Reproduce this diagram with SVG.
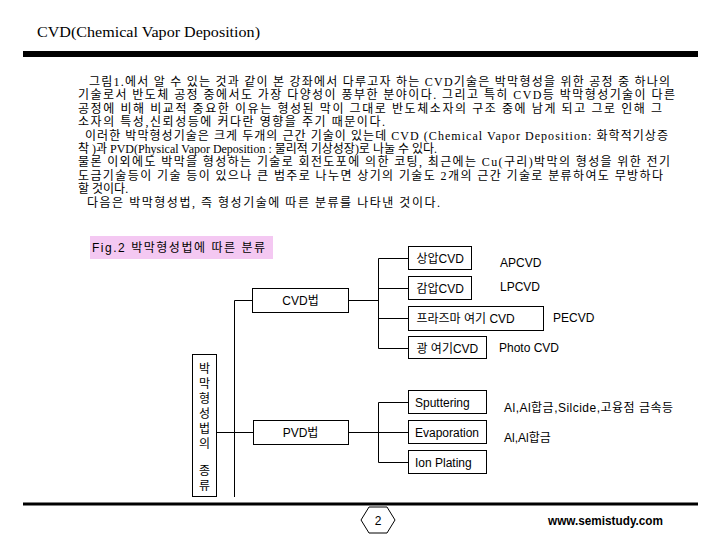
<svg xmlns="http://www.w3.org/2000/svg" width="720" height="540" viewBox="0 0 720 540">
<style>
.para{font-family:"Liberation Serif","Noto Sans CJK KR",serif;font-size:12px;fill:#000}
.lbl{font-family:"Liberation Sans","Noto Sans CJK KR",sans-serif;font-size:12px;fill:#000}
.box{fill:#fff;stroke:#000;stroke-width:1}
.ln{stroke:#000;stroke-width:1;fill:none}
</style>
<rect width="720" height="540" fill="#fff"/>
<text x="37" y="37" font-family="Liberation Serif, serif" font-size="15" textLength="223" lengthAdjust="spacingAndGlyphs">CVD(Chemical Vapor Deposition)</text>
<rect x="23" y="51" width="675" height="6" fill="#000"/>
<g id="paragraph">
<text class="para" x="89" y="86" textLength="581" lengthAdjust="spacing">그림1.에서 알 수 있는 것과 같이 본 강좌에서 다루고자 하는 CVD기술은 박막형성을 위한 공정 중 하나의</text>
<text class="para" x="78" y="99.4" textLength="597" lengthAdjust="spacing">기술로서 반도체 공정 중에서도 가장  다양성이 풍부한 분야이다. 그리고 특히 CVD등 박막형성기술이 다른</text>
<text class="para" x="78" y="112.8" textLength="584" lengthAdjust="spacing">공정에 비해 비교적 중요한 이유는 형성된 막이 그대로 반도체소자의 구조 중에 남게 되고 그로 인해 그</text>
<text class="para" x="78" y="126.2" textLength="307" lengthAdjust="spacing">소자의 특성,신뢰성등에 커다란 영향을 주기 때문이다.</text>
<text class="para" x="85" y="139.6" textLength="583" lengthAdjust="spacing">이러한 박막형성기술은 크게 두개의 근간 기술이 있는데 CVD (Chemical Vapor Deposition: 화학적기상증</text>
<text class="para" x="78" y="153" textLength="359" lengthAdjust="spacing">착 )과 PVD(Physical Vapor Deposition : 물리적 기상성장)로 나눌 수 있다.</text>
<text class="para" x="78" y="166.4" textLength="592" lengthAdjust="spacing">물론 이외에도 박막을 형성하는 기술로 회전도포에 의한 코팅, 최근에는 Cu(구리)박막의 형성을 위한 전기</text>
<text class="para" x="78" y="179.8" textLength="585" lengthAdjust="spacing">도금기술등이 기술 등이 있으나 큰 범주로 나누면 상기의 기술도 2개의 근간 기술로 분류하여도 무방하다</text>
<text class="para" x="78" y="193.2">할 것이다.</text>
<text class="para" x="87" y="206.6" textLength="353" lengthAdjust="spacing">다음은 박막형성법, 즉 형성기술에 따른 분류를 나타낸 것이다.</text>
</g>
<g id="fig-label">
<rect x="90" y="236" width="183" height="23" fill="#f4c8f2"/>
<text class="lbl" x="92" y="252" textLength="173" lengthAdjust="spacing">Fig.2   박막형성법에 따른 분류</text>
</g>
<g id="connectors">
<line class="ln" x1="217" y1="432.5" x2="253" y2="432.5"/>
<line class="ln" x1="234.5" y1="300.5" x2="234.5" y2="497"/>
<line class="ln" x1="234.5" y1="300.5" x2="252" y2="300.5"/>
<line class="ln" x1="348" y1="300.5" x2="378.5" y2="300.5"/>
<line class="ln" x1="378.5" y1="258.5" x2="378.5" y2="348.5"/>
<line class="ln" x1="378.5" y1="258.5" x2="408" y2="258.5"/>
<line class="ln" x1="378.5" y1="288.5" x2="408" y2="288.5"/>
<line class="ln" x1="378.5" y1="318.5" x2="408" y2="318.5"/>
<line class="ln" x1="378.5" y1="348.5" x2="408" y2="348.5"/>
<line class="ln" x1="348" y1="432.5" x2="408" y2="432.5"/>
<line class="ln" x1="378.5" y1="402.5" x2="378.5" y2="462.5"/>
<line class="ln" x1="378.5" y1="402.5" x2="408" y2="402.5"/>
<line class="ln" x1="378.5" y1="462.5" x2="408" y2="462.5"/>
</g>
<g id="root">
<rect class="box" x="192.5" y="354.5" width="24" height="142"/>
<g class="lbl" font-size="11" text-anchor="middle">
<text x="204.5" y="372.5">박</text>
<text x="204.5" y="388">막</text>
<text x="204.5" y="403">형</text>
<text x="204.5" y="418">성</text>
<text x="204.5" y="433">법</text>
<text x="204.5" y="448">의</text>
<text x="204.5" y="474.7">종</text>
<text x="204.5" y="489.7">류</text>
</g>
</g>
<g id="cvd">
<rect class="box" x="252.5" y="288.5" width="96" height="24"/>
<text class="lbl" x="300.5" y="304.5" text-anchor="middle">CVD법</text>
</g>
<g id="pvd">
<rect class="box" x="253.5" y="420.5" width="95" height="24"/>
<text class="lbl" x="300.5" y="436.5" text-anchor="middle">PVD법</text>
</g>
<g id="apcvd">
<rect class="box" x="408.5" y="246.5" width="63" height="23"/>
<text class="lbl" x="416.5" y="263">상압CVD</text>
<text class="lbl" x="500" y="267">APCVD</text>
</g>
<g id="lpcvd">
<rect class="box" x="408.5" y="276.5" width="63" height="23"/>
<text class="lbl" x="416.5" y="293">감압CVD</text>
<text class="lbl" x="500" y="291">LPCVD</text>
</g>
<g id="pecvd">
<rect class="box" x="408.5" y="306.5" width="135" height="24"/>
<text class="lbl" x="416.5" y="323">프라즈마 여기 CVD</text>
<text class="lbl" x="553" y="322">PECVD</text>
</g>
<g id="photocvd">
<rect class="box" x="408.5" y="336.5" width="78" height="22"/>
<text class="lbl" x="416.5" y="353">광 여기CVD</text>
<text class="lbl" x="499" y="352">Photo CVD</text>
</g>
<g id="sputtering">
<rect class="box" x="408.5" y="390.5" width="78" height="23"/>
<text class="lbl" x="415" y="407">Sputtering</text>
<text class="lbl" x="504" y="412" textLength="169" lengthAdjust="spacing">Al,Al합금,Silcide,고융점 금속등</text>
</g>
<g id="evaporation">
<rect class="box" x="408.5" y="420.5" width="78" height="23"/>
<text class="lbl" x="415" y="437">Evaporation</text>
<text class="lbl" x="504" y="442">Al,Al합금</text>
</g>
<g id="ionplating">
<rect class="box" x="408.5" y="450.5" width="78" height="23"/>
<text class="lbl" x="415" y="467">Ion Plating</text>
</g>
<rect x="23" y="502.5" width="675" height="3" fill="#000"/>
<g id="page-number">
<polygon class="box" points="361,520 369,507 387,507 395,520 387,533 369,533"/>
<text class="lbl" x="378" y="524.5" text-anchor="middle">2</text>
</g>
<text x="548" y="525" font-family="Liberation Sans, sans-serif" font-size="12" font-weight="bold" textLength="115" lengthAdjust="spacingAndGlyphs">www.semistudy.com</text>
</svg>
